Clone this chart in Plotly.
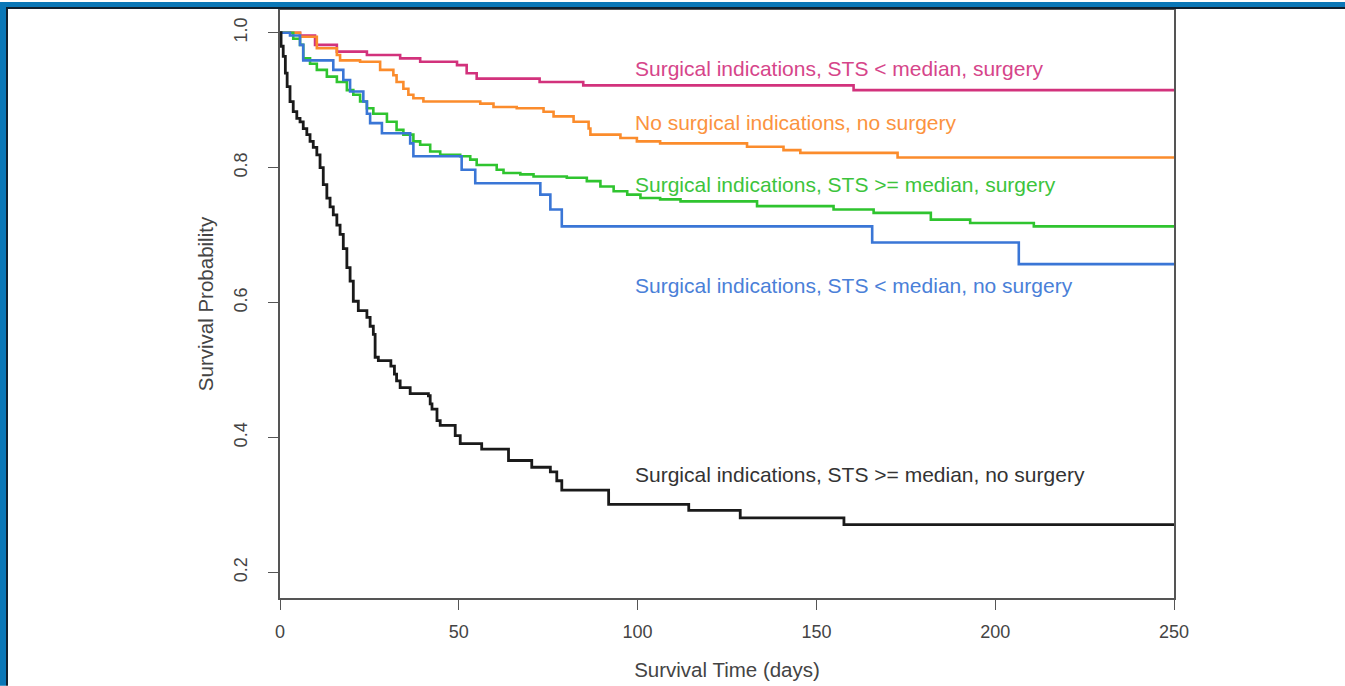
import plotly.graph_objects as go

# ---- data ----
mag_t = [0, 5.6, 9.8, 15.9, 24.3, 33.6, 39.2, 49.5, 52.2, 55, 72.6, 84.8, 160.4, 250]
mag_s = [1.0, 0.996, 0.982, 0.972, 0.967, 0.962, 0.957, 0.952, 0.940, 0.932, 0.927, 0.922, 0.915, 0.915]

org_t = [0, 5.6, 10.3, 15.9, 16.8, 22.4, 28, 31.7, 32.6, 34.5, 35.9, 37.3, 40.1, 56, 59.7, 66.2,
         73.7, 76.5, 82.1, 86.3, 86.8, 95.2, 99.8, 106.3, 130.6, 140.8, 145.5, 172.7, 250]
org_s = [1.0, 0.994, 0.977, 0.967, 0.959, 0.957, 0.945, 0.937, 0.927, 0.917, 0.908, 0.903, 0.898, 0.895, 0.890, 0.888,
         0.883, 0.876, 0.868, 0.858, 0.849, 0.844, 0.839, 0.836, 0.831, 0.826, 0.822, 0.815, 0.815]

grn_t = [0, 3.7, 5.6, 6.5, 8.4, 10.3, 13.1, 15.9, 18.7, 20.5, 22.4, 24.3, 26.1, 29.9, 32.6, 34.5, 37.3, 39.2,
         42, 44.8, 50.4, 53.2, 55, 60.6, 62.5, 67.2, 70.9, 80.2, 85.8, 89.6, 93.3, 97.1, 100.8, 106.3, 112,
         133.4, 154.8, 166, 182, 193, 210.8, 250]
grn_s = [1.0, 0.991, 0.982, 0.962, 0.954, 0.945, 0.935, 0.927, 0.915, 0.908, 0.898, 0.888, 0.880, 0.868, 0.856, 0.849, 0.839, 0.834,
         0.824, 0.819, 0.817, 0.812, 0.804, 0.797, 0.792, 0.790, 0.787, 0.785, 0.780, 0.772, 0.765, 0.760, 0.755, 0.753, 0.750,
         0.743, 0.738, 0.733, 0.723, 0.718, 0.713, 0.713]

blu_t = [0, 2.8, 5.6, 6.5, 14.9, 17.7, 19.6, 23.3, 24.3, 25.2, 28.5, 36.4, 37.3, 50.8, 54.6, 72.8, 75.6, 78.8,
         165.6, 206.6, 250]
blu_s = [1.0, 0.996, 0.982, 0.959, 0.945, 0.930, 0.913, 0.898, 0.880, 0.866, 0.851, 0.836, 0.817, 0.797, 0.777, 0.760, 0.738, 0.713,
         0.689, 0.657, 0.657]

blk_t = [0, 0.3, 0.9, 1.5, 2.0, 2.8, 3.7, 4.7, 5.6, 6.5, 7.5, 8.4, 9.3, 10.3, 11.2, 12.1, 13.1, 14.0, 14.9, 15.9,
         16.8, 17.7, 18.7, 19.6, 20.5, 21.9, 24.3, 25.2, 26.1, 26.6, 27.5, 31.0, 32.0, 32.6, 33.6, 36.4, 41.5,
         42.0, 42.5, 43.9, 44.8, 49.0, 50.4, 56.4, 63.9, 70.4, 75.6, 77.4, 78.8, 91.9, 114.3, 128.7, 157.7, 250]
blk_s = [1.0, 0.98, 0.965, 0.94, 0.92, 0.898, 0.883, 0.873, 0.868, 0.858, 0.849, 0.839, 0.830, 0.819, 0.800, 0.775, 0.755, 0.742, 0.730, 0.715,
         0.701, 0.680, 0.652, 0.632, 0.602, 0.588, 0.578, 0.565, 0.553, 0.519, 0.514, 0.506, 0.494, 0.484, 0.474, 0.465, 0.462,
         0.450, 0.442, 0.425, 0.418, 0.403, 0.391, 0.383, 0.366, 0.356, 0.349, 0.336, 0.322, 0.301, 0.292, 0.281, 0.271, 0.271]

series_names = ["Surgical indications, STS < median, surgery",
                "No surgical indications, no surgery",
                "Surgical indications, STS >= median, surgery",
                "Surgical indications, STS < median, no surgery",
                "Surgical indications, STS >= median, no surgery"]
label_x = [98.8, 98.8, 98.8, 98.8, 98.8]
label_y = [0.9465, 0.867, 0.775, 0.626, 0.345]

x_ticks = [0, 50, 100, 150, 200, 250]
y_ticks = [0.2, 0.4, 0.6, 0.8, 1.0]
y_tick_text = ["0.2", "0.4", "0.6", "0.8", "1.0"]

colors = ["#d2327c", "#fb8c2c", "#2fc42f", "#3a76d6", "#1a1a1a"]
text_colors = ["#d6458a", "#fb9340", "#3cc43c", "#4a80d8", "#333333"]
widths = [2.6, 2.6, 2.6, 2.6, 2.8]

series = [(mag_t, mag_s), (org_t, org_s), (grn_t, grn_s), (blu_t, blu_s), (blk_t, blk_s)]

fig = go.Figure()
for (t, s), name, c, w in zip(series, series_names, colors, widths):
    fig.add_trace(go.Scatter(x=t, y=s, mode="lines", line=dict(color=c, width=w, shape="hv"),
                             name=name, showlegend=False))

for name, lx, ly, tc in zip(series_names, label_x, label_y, text_colors):
    fig.add_annotation(x=lx, y=ly, text=name, showarrow=False, xanchor="left", yanchor="middle",
                       font=dict(family="Liberation Sans, Arial, sans-serif", size=21, color=tc))

W, H = 1345, 686
ml, mr, mt, mb = 280, 171, 8, 88
pw, ph = W - ml - mr, H - mt - mb

def px_to_paper_x(px):
    return (px - ml) / pw

def py_to_paper_y(py):
    return (H - mb - py) / ph

frame_blue = "#0a77b7"
frame_dark = "#10202e"
# top strip
fig.add_shape(type="rect", xref="paper", yref="paper", x0=px_to_paper_x(0), x1=px_to_paper_x(W),
              y0=py_to_paper_y(5), y1=py_to_paper_y(0), fillcolor=frame_blue, line_width=0, layer="above")
fig.add_shape(type="line", xref="paper", yref="paper", x0=px_to_paper_x(6), x1=px_to_paper_x(W),
              y0=py_to_paper_y(6), y1=py_to_paper_y(6), line=dict(color=frame_dark, width=2), layer="above")
# left strip
fig.add_shape(type="rect", xref="paper", yref="paper", x0=px_to_paper_x(0), x1=px_to_paper_x(6),
              y0=py_to_paper_y(H), y1=py_to_paper_y(0), fillcolor=frame_blue, line_width=0, layer="above")
fig.add_shape(type="line", xref="paper", yref="paper", x0=px_to_paper_x(7), x1=px_to_paper_x(7),
              y0=py_to_paper_y(H), y1=py_to_paper_y(6), line=dict(color=frame_dark, width=2), layer="above")

tick_font = dict(family="Liberation Sans, Arial, sans-serif", size=18, color="#444444")
title_font = dict(family="Liberation Sans, Arial, sans-serif", size=20.5, color="#444444")
fig.update_layout(
    width=W, height=H,
    margin=dict(l=ml, r=mr, t=mt, b=mb),
    paper_bgcolor="white", plot_bgcolor="white",
    xaxis=dict(range=[0, 250], tickvals=x_ticks, ticks="outside", ticklen=10, tickcolor="#555555",
               showline=True, linecolor="#555555", linewidth=1.5, mirror=True, showgrid=False, zeroline=False,
               tickfont=tick_font, ticklabelstandoff=7,
               title=dict(text="Survival Time (days)", font=title_font, standoff=21)),
    yaxis=dict(range=[0.1622, 1.0337], tickvals=y_ticks, ticktext=y_tick_text, tickangle=-90,
               ticks="outside", ticklen=10, tickcolor="#555555",
               showline=True, linecolor="#555555", linewidth=1.5, mirror=True, showgrid=False, zeroline=False,
               tickfont=tick_font, ticklabelstandoff=14,
               title=dict(text="Survival Probability", font=title_font, standoff=12)),
)

fig.write_html("out.html", config={"displayModeBar": False})
